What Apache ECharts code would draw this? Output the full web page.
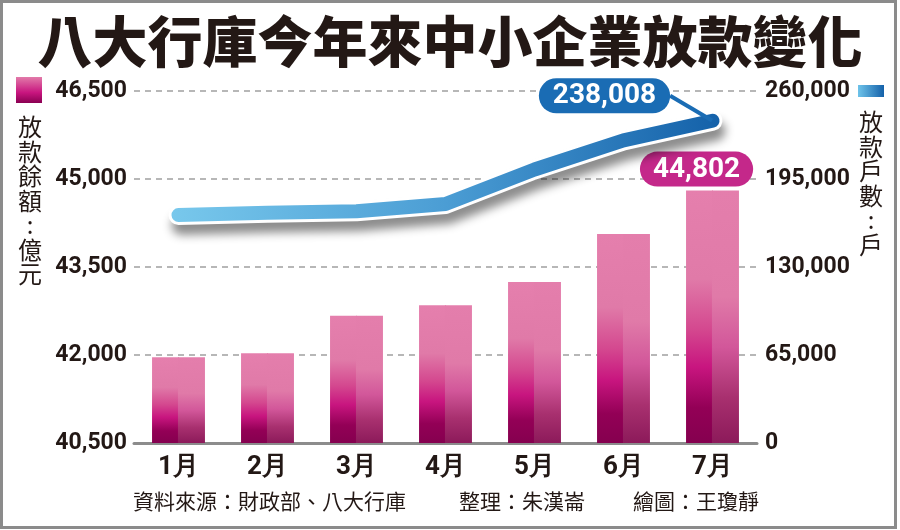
<!DOCTYPE html>
<html>
<head>
<meta charset="utf-8">
<script src="https://cdn.jsdelivr.net/npm/echarts@6/dist/echarts.min.js"></script>
<style>
  html, body { margin: 0; padding: 0; background: #fff; }
  #chart { width: 900px; height: 530px; }
</style>
</head>
<body>
<div id="chart"></div>
<script>
// data
const months = ['1月', '2月', '3月', '4月', '5月', '6月', '7月'];
const loanBalance = [41960, 42030, 42670, 42850, 43245, 44063, 44802];      // 放款餘額 億元
const loanAccounts = [168400, 170000, 171200, 176500, 202000, 223500, 238008]; // 放款戶數 戶
const leftTicks = [40500, 42000, 43500, 45000, 46500];
const rightTicks = [0, 65000, 130000, 195000, 260000];

const ink = '#231815';
const numFont = 'Roboto, "Liberation Sans", sans-serif';
const cjkFont = '"Noto Sans CJK TC", "Noto Sans CJK SC", sans-serif';
const fmt = v => Number(v).toLocaleString('en-US');
const last = months.length - 1;

const chart = echarts.init(document.getElementById('chart'));

const leftGrad = new echarts.graphic.LinearGradient(0, 0, 0, 1, [
  { offset: 0, color: '#e57fad' },
  { offset: 0.35, color: '#e07aa8' },
  { offset: 0.55, color: '#d4488f' },
  { offset: 0.7, color: '#c8157f' },
  { offset: 0.86, color: '#930056' },
  { offset: 1, color: '#85004f' }
]);
const rightGrad = new echarts.graphic.LinearGradient(0, 0, 0, 1, [
  { offset: 0, color: '#e47eac' },
  { offset: 0.42, color: '#e07aa8' },
  { offset: 0.62, color: '#d2579a' },
  { offset: 0.82, color: '#a8306f' },
  { offset: 1, color: '#8c1a5a' }
]);
const lineGrad = new echarts.graphic.LinearGradient(0, 0, 1, 0, [
  { offset: 0, color: '#78c8ec' },
  { offset: 0.5, color: '#4b9dd4' },
  { offset: 1, color: '#1461a9' }
]);

const barData = loanBalance.map((v, i) => i === last ? {
  value: v,
  label: {
    show: true, position: 'top', distance: 4, offset: [-3, 0],
    formatter: p => fmt(p.value),
    color: '#fff', fontFamily: numFont, fontWeight: 'bold', fontSize: 28,
    backgroundColor: '#c4288a', borderRadius: 19, padding: [4, 13, 3, 13]
  }
} : v);

const lineData = loanAccounts.map((v, i) => i === last ? {
  value: v,
  label: {
    show: true, position: 'top', distance: 5,
    formatter: p => fmt(p.value),
    color: '#fff', fontFamily: numFont, fontWeight: 'bold', fontSize: 28,
    backgroundColor: '#1a6cb4', borderRadius: 19, padding: [4, 14, 3, 14]
  }
} : v);

chart.setOption({
  animation: false,
  backgroundColor: '#fff',
  grid: { left: 134, right: 143, top: 91, bottom: 87 },
  xAxis: {
    type: 'category',
    data: months,
    axisLine: { lineStyle: { color: '#8c8c8c', width: 3 } },
    axisTick: { alignWithLabel: true, length: 8, lineStyle: { color: '#8c8c8c', width: 2 } },
    axisLabel: { color: ink, fontFamily: numFont, fontWeight: 'bold', fontSize: 26, margin: 11 }
  },
  yAxis: [{
    type: 'value',
    min: leftTicks[0], max: leftTicks[leftTicks.length - 1],
    interval: leftTicks[1] - leftTicks[0],
    axisLine: { show: false }, axisTick: { show: false },
    axisLabel: { formatter: fmt, color: ink, fontFamily: numFont, fontWeight: 'bold', fontSize: 23, margin: 7 },
    splitLine: { lineStyle: { color: '#a0a0a0', width: 1.5, type: [6, 5] } }
  }, {
    type: 'value',
    min: rightTicks[0], max: rightTicks[rightTicks.length - 1],
    interval: rightTicks[1] - rightTicks[0],
    axisLine: { show: false }, axisTick: { show: false },
    axisLabel: { formatter: fmt, color: ink, fontFamily: numFont, fontWeight: 'bold', fontSize: 23, margin: 8 },
    splitLine: { show: false }
  }],
  series: [{
    name: '放款餘額L', type: 'bar', data: barData,
    barWidth: 27, barGap: '-4%',
    itemStyle: { color: leftGrad }
  }, {
    name: '放款餘額R', type: 'bar', data: loanBalance,
    barWidth: 27,
    itemStyle: { color: rightGrad }
  }, {
    name: 'outline', type: 'line', yAxisIndex: 1, data: loanAccounts,
    symbol: 'none', silent: true,
    lineStyle: {
      color: '#fff', width: 20, cap: 'round', join: 'round',
      shadowColor: 'rgba(0,0,0,0.45)', shadowBlur: 10, shadowOffsetX: 3, shadowOffsetY: 10
    }
  }, {
    name: '放款戶數', type: 'line', yAxisIndex: 1, data: lineData,
    symbol: 'circle', symbolSize: 1, showSymbol: true,
    itemStyle: { color: 'rgba(0,0,0,0)' },
    lineStyle: { color: lineGrad, width: 14, cap: 'round', join: 'round' },
    labelLine: { show: true, lineStyle: { color: '#1a6cb4', width: 4 } },
    labelLayout: { dx: -108, dy: -2 },
    z: 5
  }],
  graphic: [
    { type: 'rect', shape: { x: 1.5, y: 1.5, width: 894, height: 526 },
      style: { fill: null, stroke: '#8b8b8b', lineWidth: 3 }, silent: true },
    { type: 'text', left: 'center', top: 14,
      style: { text: '八大行庫今年來中小企業放款變化', fill: ink, font: '900 55px ' + cjkFont } },
    { type: 'rect', shape: { x: 16, y: 77, width: 26, height: 26 },
      style: { fill: new echarts.graphic.LinearGradient(0, 0, 0, 1, [
        { offset: 0, color: '#e27aa9' }, { offset: 0.6, color: '#c8157f' }, { offset: 1, color: '#8a0052' }]) } },
    { type: 'text', x: 30, y: 115,
      style: { text: '放\n款\n餘\n額\n:\n億\n元', fill: ink, font: '400 24px ' + cjkFont,
        align: 'center', lineHeight: 24.5 } },
    { type: 'rect', shape: { x: 858, y: 85, width: 26, height: 12 },
      style: { fill: new echarts.graphic.LinearGradient(0, 0, 1, 0, [
        { offset: 0, color: '#6ec3ea' }, { offset: 1, color: '#1461a9' }]) } },
    { type: 'text', x: 871, y: 110,
      style: { text: '放\n款\n戶\n數\n:\n戶', fill: ink, font: '400 24px ' + cjkFont,
        align: 'center', lineHeight: 24.5 } },
    { type: 'text', x: 133, y: 491,
      style: { text: '資料來源：財政部、八大行庫', fill: ink, font: '400 21px ' + cjkFont } },
    { type: 'text', x: 459, y: 491,
      style: { text: '整理：朱漢崙', fill: ink, font: '400 21px ' + cjkFont } },
    { type: 'text', x: 633, y: 491,
      style: { text: '繪圖：王瓊靜', fill: ink, font: '400 21px ' + cjkFont } }
  ]
});
</script>
</body>
</html>
